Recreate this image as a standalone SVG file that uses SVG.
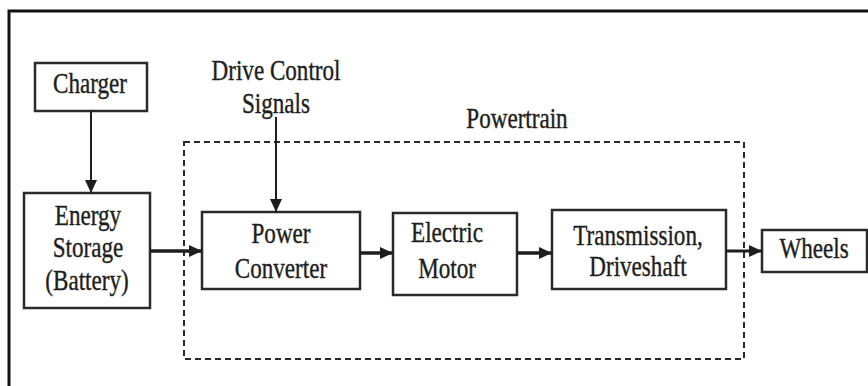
<svg xmlns="http://www.w3.org/2000/svg" width="868" height="386" viewBox="0 0 868 386">
<defs>
<style>
.box{fill:#fff;stroke:#2a2a2a;stroke-width:2.5}
.t{font-family:'Liberation Serif','Times New Roman',serif;font-size:30px;fill:#1e1e1e;stroke:#1e1e1e;stroke-width:0.4;text-anchor:middle}
.c{fill:none;stroke:#1e1e1e}
.dash{fill:none;stroke:#2a2a2a;stroke-width:2;stroke-dasharray:6 4}
</style>
<marker id="ah" markerUnits="userSpaceOnUse" markerWidth="14" markerHeight="12" refX="13" refY="6" orient="auto">
<path d="M0,0 L13,6 L0,12 Z" fill="#1e1e1e"/>
</marker>
</defs>
<rect width="868" height="386" fill="#fff"/>
<path d="M9,390 L9,11 L872,11" fill="none" stroke="#111" stroke-width="3"/>

<g id="powertrain">
<rect class="dash" x="184" y="142" width="560" height="217"/>
<text class="t" transform="translate(517,0) scale(0.77,1)" x="0" y="128">Powertrain</text>
</g>

<g id="drive-control">
<text class="t" transform="translate(276,0) scale(0.77,1)" x="0" y="80">Drive Control</text>
<text class="t" transform="translate(276,0) scale(0.77,1)" x="0" y="113">Signals</text>
</g>

<g id="charger">
<rect class="box" x="35" y="63" width="112" height="48"/>
<text class="t" transform="translate(90,0) scale(0.77,1)" x="0" y="93">Charger</text>
</g>

<g id="energy-storage">
<rect class="box" x="24" y="193" width="126" height="115"/>
<text class="t" transform="translate(88,0) scale(0.77,1)" x="0" y="225">Energy</text>
<text class="t" transform="translate(88,0) scale(0.77,1)" x="0" y="257">Storage</text>
<text class="t" transform="translate(87,0) scale(0.77,1)" x="0" y="290">(Battery)</text>
</g>

<g id="power-converter">
<rect class="box" x="202" y="212" width="158" height="77"/>
<text class="t" transform="translate(281,0) scale(0.77,1)" x="0" y="243">Power</text>
<text class="t" transform="translate(281,0) scale(0.77,1)" x="0" y="278">Converter</text>
</g>

<g id="electric-motor">
<rect class="box" x="393" y="213" width="124" height="82"/>
<text class="t" transform="translate(447,0) scale(0.77,1)" x="0" y="242">Electric</text>
<text class="t" transform="translate(447,0) scale(0.77,1)" x="0" y="278">Motor</text>
</g>

<g id="transmission">
<rect class="box" x="552" y="210" width="174" height="79"/>
<text class="t" transform="translate(638,0) scale(0.77,1)" x="0" y="245">Transmission,</text>
<text class="t" transform="translate(638,0) scale(0.77,1)" x="0" y="276">Driveshaft</text>
</g>

<g id="wheels">
<rect class="box" x="762" y="230" width="105" height="42"/>
<text class="t" transform="translate(814,0) scale(0.77,1)" x="0" y="258">Wheels</text>
</g>

<g id="connectors">
<line class="c" x1="91" y1="111" x2="91" y2="193" stroke-width="2" marker-end="url(#ah)"/>
<line class="c" x1="276" y1="117" x2="276" y2="212" stroke-width="2" marker-end="url(#ah)"/>
<line class="c" x1="150" y1="251" x2="202" y2="251" stroke-width="3.5" marker-end="url(#ah)"/>
<line class="c" x1="360" y1="253" x2="393" y2="253" stroke-width="3.5" marker-end="url(#ah)"/>
<line class="c" x1="517" y1="253" x2="552" y2="253" stroke-width="3.5" marker-end="url(#ah)"/>
<line class="c" x1="726" y1="251" x2="762" y2="251" stroke-width="3" marker-end="url(#ah)"/>
</g>
</svg>
